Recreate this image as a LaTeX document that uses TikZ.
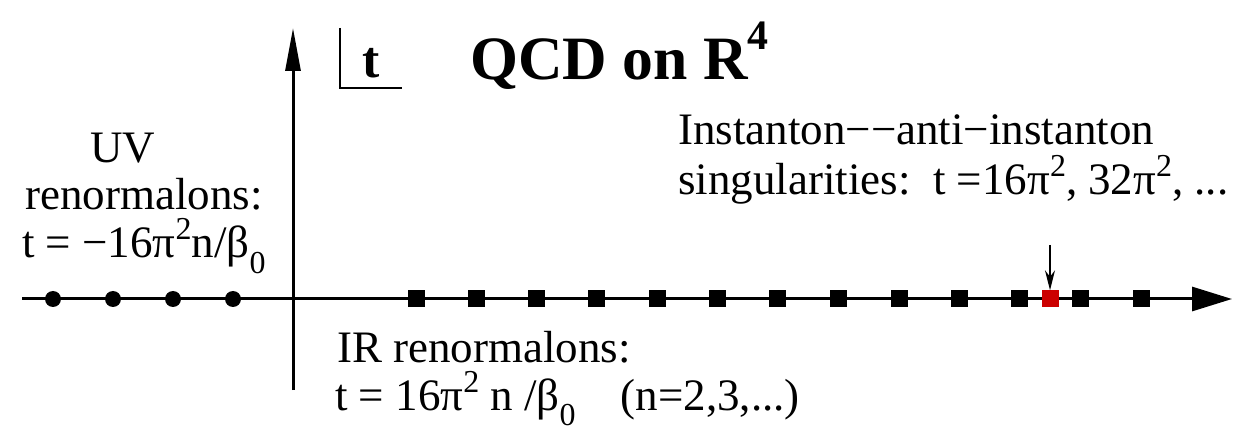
\documentclass[tikz,border=0pt]{standalone}
\usepackage{fontspec}
\newfontfamily\tms{Liberation Serif}
\usetikzlibrary{arrows.meta}
\newcommand{\myup}[1]{\raisebox{0.4em}{\scalebox{0.71}{#1}}}
\newcommand{\mydn}[1]{\raisebox{-0.35em}{\scalebox{0.71}{#1}}}
\definecolor{polered}{RGB}{204,0,0}
\tikzset{
  lbl/.style={inner sep=0pt, anchor=base west, font=\fontsize{45}{50}\selectfont},
  uvpole/.style={circle, fill=black, inner sep=0pt, minimum size=16pt},
  irpole/.style={rectangle, fill=black, inner sep=0pt, minimum size=17pt},
  ipole/.style={rectangle, fill=polered, inner sep=0pt, minimum size=17pt},
  axis/.style={line width=3pt},
}
\begin{document}
\begin{tikzpicture}[x=1pt,y=-1pt]
\useasboundingbox (0,0) rectangle (1249,427);
% axes
\coordinate (hl) at (22,299);
\coordinate (hr) at (1232,299);
\coordinate (vb) at (293,390);
\coordinate (vt) at (293,28);
\draw[axis,-{Triangle[length=40pt,width=24pt]}] (hl) -- (hr);
\draw[axis,-{Triangle[length=43pt,width=15pt]}] (vb) -- (vt);
% t bracket
\coordinate (b1) at (340,28);
\coordinate (b2) at (340,88);
\coordinate (b3) at (402,88);
\draw[line width=2.5pt] (b1) -- (b2) -- (b3);
\node[lbl] (tlab) at (362,78) {\tms\bfseries\scalebox{1.15}{t}};
\node[lbl] (title) at (470,80) {\tms\bfseries\scalebox{1.37}{QCD on R\raisebox{0.5em}{\scalebox{0.68}{4}}}};
% UV poles
\foreach \x [count=\i] in {53,113,173,233}
  \node[uvpole] (uv\i) at (\x,299) {};
% IR poles
\foreach \x [count=\i] in {416,476,536,596,657,717,777,838,899,959,1019,1080,1141}
  \node[irpole] (ir\i) at (\x,299) {};
\node[ipole] (inst) at (1050,299) {};
% labels
\node[lbl] (uv1l) at (90,163) {\tms UV};
\node[lbl] (uv2l) at (25,210) {\tms renormalons:};
\node[lbl] (uv3l) at (22,258) {\tms t = −16π\myup{2}n/β\mydn{0}};
\node[lbl] (in1l) at (678,145) {\tms Instanton−−anti−instanton};
\node[lbl] (in2l) at (678,195) {\tms singularities:\ \ t =16π\myup{2}, 32π\myup{2}, ...};
\node[lbl] (ir1l) at (337,362) {\tms IR renormalons:};
\node[lbl] (ir2l) at (335,410) {\tms t = 16π\myup{2} n /β\mydn{0}\ \ \ \ (n=2,3,...)};
% instanton arrow
\coordinate (ia) at (1050,245);
\draw[line width=1.5pt,-{Stealth[length=20pt,width=10pt]}] (ia) -- (inst.north);
\end{tikzpicture}
\end{document}
